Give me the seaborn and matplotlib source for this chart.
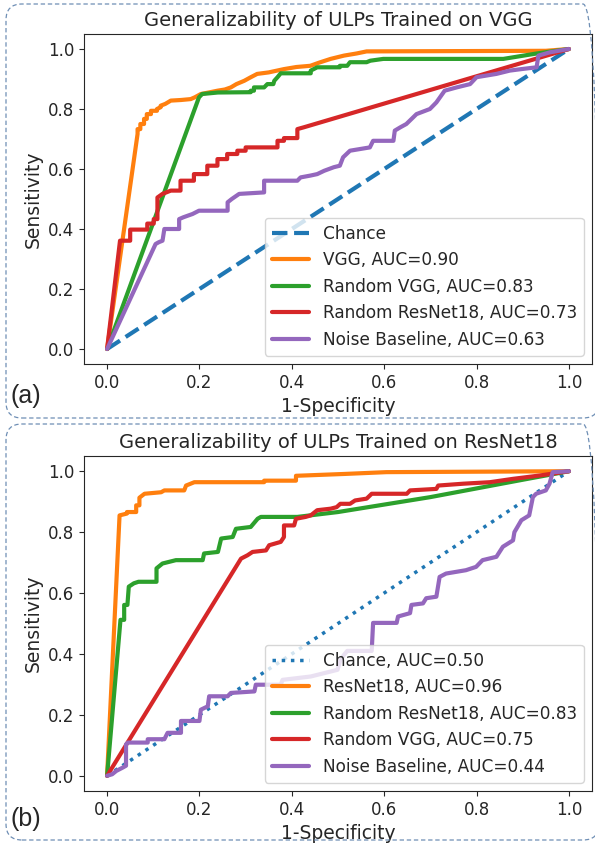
import matplotlib.pyplot as plt
import seaborn as sns
from matplotlib.patches import FancyBboxPatch
from matplotlib.transforms import IdentityTransform

# chance diagonal
chance_fpr = [0.0, 1.0]
chance_tpr = [0.0, 1.0]

# ---- panel (a): ULPs trained on VGG ----
a_vgg_fpr = [0, 0.066, 0.066, 0.072, 0.072, 0.08, 0.08, 0.086, 0.086, 0.095, 0.095, 0.108, 0.108,
             0.116, 0.116, 0.126, 0.138, 0.16, 0.181, 0.19, 0.203, 0.22, 0.239, 0.255, 0.268, 0.28,
             0.297, 0.31, 0.325, 0.35, 0.383, 0.41, 0.44, 0.46, 0.484, 0.513, 0.54, 0.562, 0.95, 1]
a_vgg_tpr = [0, 0.717, 0.733, 0.733, 0.75, 0.75, 0.767, 0.767, 0.783, 0.783, 0.794, 0.794, 0.8,
             0.806, 0.811, 0.817, 0.828, 0.83, 0.833, 0.839, 0.85, 0.855, 0.861, 0.865, 0.872, 0.883,
             0.894, 0.905, 0.917, 0.922, 0.933, 0.94, 0.944, 0.955, 0.967, 0.978, 0.985, 0.992, 0.994, 1]

a_rvgg_fpr = [0, 0.199, 0.206, 0.24, 0.311, 0.311, 0.318, 0.318, 0.34, 0.347, 0.36, 0.362, 0.369,
              0.376, 0.441, 0.441, 0.455, 0.504, 0.504, 0.52, 0.526, 0.562, 0.57, 0.598, 0.858, 0.93, 1]
a_rvgg_tpr = [0, 0.839, 0.85, 0.855, 0.856, 0.861, 0.861, 0.872, 0.872, 0.883, 0.883, 0.894, 0.906,
              0.919, 0.919, 0.928, 0.939, 0.939, 0.944, 0.944, 0.956, 0.956, 0.961, 0.967, 0.967, 0.985, 1]

a_rres_fpr = [0, 0.028, 0.05, 0.05, 0.087, 0.087, 0.101, 0.101, 0.109, 0.109, 0.12, 0.138, 0.159,
              0.159, 0.188, 0.188, 0.217, 0.217, 0.239, 0.239, 0.26, 0.26, 0.282, 0.282, 0.3, 0.3,
              0.369, 0.369, 0.383, 0.383, 0.412, 0.412, 0.426, 1]
a_rres_tpr = [0, 0.361, 0.361, 0.398, 0.398, 0.418, 0.418, 0.433, 0.433, 0.505, 0.517, 0.528, 0.528,
              0.561, 0.561, 0.583, 0.583, 0.611, 0.611, 0.633, 0.633, 0.65, 0.65, 0.661, 0.661, 0.672,
              0.672, 0.694, 0.694, 0.703, 0.703, 0.733, 0.739, 1]

a_noise_fpr = [0, 0.105, 0.112, 0.12, 0.124, 0.156, 0.156, 0.165, 0.174, 0.185, 0.199, 0.261, 0.261,
               0.27, 0.286, 0.34, 0.34, 0.412, 0.419, 0.44, 0.455, 0.47, 0.491, 0.504, 0.511, 0.526,
               0.569, 0.576, 0.62, 0.623, 0.635, 0.648, 0.67, 0.699, 0.713, 0.731, 0.757, 0.786, 0.8,
               0.843, 0.872, 0.897, 0.93, 0.934, 0.959, 1]
a_noise_tpr = [0, 0.35, 0.356, 0.361, 0.4, 0.4, 0.433, 0.439, 0.444, 0.45, 0.461, 0.461, 0.489,
               0.5, 0.517, 0.522, 0.561, 0.561, 0.572, 0.578, 0.583, 0.594, 0.606, 0.611, 0.639, 0.661,
               0.672, 0.694, 0.694, 0.728, 0.739, 0.75, 0.783, 0.8, 0.822, 0.861, 0.872, 0.883, 0.906,
               0.917, 0.928, 0.933, 0.939, 0.978, 0.989, 1]

# ---- panel (b): ULPs trained on ResNet18 ----
b_res_fpr = [0, 0.027, 0.043, 0.043, 0.063, 0.063, 0.07, 0.07, 0.081, 0.117, 0.124, 0.167, 0.171,
             0.189, 0.34, 0.34, 0.409, 0.409, 0.513, 0.605, 1]
b_res_tpr = [0, 0.855, 0.861, 0.866, 0.866, 0.888, 0.888, 0.913, 0.926, 0.931, 0.937, 0.937, 0.953,
             0.964, 0.964, 0.969, 0.969, 0.985, 0.991, 0.997, 1]

b_rres_fpr = [0, 0.029, 0.037, 0.037, 0.044, 0.047, 0.058, 0.068, 0.107, 0.107, 0.12, 0.149, 0.207,
              0.21, 0.24, 0.247, 0.272, 0.279, 0.311, 0.326, 0.333, 0.412, 0.5, 0.7, 0.9, 1]
b_rres_tpr = [0, 0.512, 0.512, 0.561, 0.561, 0.621, 0.632, 0.637, 0.637, 0.681, 0.697, 0.708, 0.708,
              0.73, 0.735, 0.779, 0.784, 0.811, 0.817, 0.844, 0.85, 0.85, 0.866, 0.915, 0.972, 1]

b_rvgg_fpr = [0, 0.29, 0.304, 0.315, 0.344, 0.351, 0.376, 0.383, 0.383, 0.405, 0.409, 0.43, 0.441,
              0.455, 0.484, 0.497, 0.505, 0.526, 0.537, 0.562, 0.573, 0.649, 0.656, 0.713, 0.717,
              0.771, 0.829, 0.879, 0.937, 1]
b_rvgg_tpr = [0, 0.713, 0.724, 0.735, 0.74, 0.757, 0.768, 0.784, 0.822, 0.822, 0.844, 0.85, 0.855,
              0.872, 0.877, 0.882, 0.893, 0.893, 0.904, 0.91, 0.926, 0.926, 0.937, 0.942, 0.953,
              0.959, 0.964, 0.975, 0.986, 1]

b_noise_fpr = [0, 0.011, 0.02, 0.034, 0.041, 0.041, 0.045, 0.088, 0.088, 0.124, 0.131, 0.16, 0.16,
               0.2, 0.203, 0.218, 0.221, 0.261, 0.268, 0.319, 0.322, 0.376, 0.38, 0.441, 0.47, 0.499,
               0.505, 0.513, 0.52, 0.569, 0.573, 0.576, 0.627, 0.63, 0.656, 0.659, 0.684, 0.691, 0.713,
               0.72, 0.734, 0.777, 0.799, 0.813, 0.843, 0.857, 0.879, 0.882, 0.897, 0.914, 0.922,
               0.929, 0.95, 0.958, 0.965, 1]
b_noise_tpr = [0, 0.005, 0.016, 0.027, 0.033, 0.103, 0.109, 0.109, 0.12, 0.12, 0.141, 0.141, 0.18,
               0.18, 0.217, 0.228, 0.261, 0.261, 0.272, 0.277, 0.299, 0.299, 0.315, 0.326, 0.337, 0.348,
               0.38, 0.397, 0.41, 0.41, 0.41, 0.502, 0.502, 0.523, 0.534, 0.561, 0.566, 0.583, 0.588,
               0.653, 0.664, 0.675, 0.686, 0.708, 0.719, 0.752, 0.773, 0.8, 0.839, 0.855, 0.915,
               0.926, 0.937, 0.959, 0.997, 1]

BLUE, ORANGE, GREEN, RED, PURPLE = "#1f77b4", "#ff7f0e", "#2ca02c", "#d62728", "#9467bd"

sns.set_style("ticks")
plt.rcParams["font.family"] = ["DejaVu Sans"]

fig = plt.figure(figsize=(5.95, 8.43), dpi=100)
ax_a = fig.add_axes([84 / 595, 1 - 364 / 843, 508 / 595, 330 / 843])
ax_b = fig.add_axes([84 / 595, 1 - 791 / 843, 508 / 595, 335 / 843])


def draw_panel(ax, title, chance_ls, chance_lw, chance_label, curves):
    sns.lineplot(x=chance_fpr, y=chance_tpr, ax=ax, color=BLUE, lw=chance_lw,
                 linestyle=chance_ls, label=chance_label, sort=False, estimator=None)
    for fpr, tpr, color, label in curves:
        sns.lineplot(x=fpr, y=tpr, ax=ax, color=color, lw=3, label=label,
                     sort=False, estimator=None)
    ax.set_xlim(-0.05, 1.05)
    ax.set_ylim(-0.05, 1.05)
    ax.set_xticks([0, 0.2, 0.4, 0.6, 0.8, 1.0])
    ax.set_yticks([0, 0.2, 0.4, 0.6, 0.8, 1.0])
    ax.tick_params(labelsize=12)
    ax.set_xlabel("1-Specificity", fontsize=13.5)
    ax.set_ylabel("Sensitivity", fontsize=13.5)
    ax.set_title(title, fontsize=14)
    ax.legend(loc="lower right", fontsize=12.2, handlelength=2.2)


draw_panel(ax_a, "Generalizability of ULPs Trained on VGG", "--", 3, "Chance", [
    (a_vgg_fpr, a_vgg_tpr, ORANGE, "VGG, AUC=0.90"),
    (a_rvgg_fpr, a_rvgg_tpr, GREEN, "Random VGG, AUC=0.83"),
    (a_rres_fpr, a_rres_tpr, RED, "Random ResNet18, AUC=0.73"),
    (a_noise_fpr, a_noise_tpr, PURPLE, "Noise Baseline, AUC=0.63"),
])
draw_panel(ax_b, "Generalizability of ULPs Trained on ResNet18", ":", 2.5, "Chance, AUC=0.50", [
    (b_res_fpr, b_res_tpr, ORANGE, "ResNet18, AUC=0.96"),
    (b_rres_fpr, b_rres_tpr, GREEN, "Random ResNet18, AUC=0.83"),
    (b_rvgg_fpr, b_rvgg_tpr, RED, "Random VGG, AUC=0.75"),
    (b_noise_fpr, b_noise_tpr, PURPLE, "Noise Baseline, AUC=0.44"),
])

# dashed rounded frames around each panel (pixel coordinates)
for x0, y0, w, h in [(6, 843 - 418, 593, 414), (6, 3, 593, 416)]:
    box = FancyBboxPatch((x0, y0), w, h, boxstyle="round,pad=0,rounding_size=16",
                         transform=IdentityTransform(), fill=False, ec="#6f8fb5",
                         lw=0.9, ls=(0, (3.5, 2.2)))
    fig.add_artist(box)

fig.text(10 / 595, 1 - 396 / 843, "(a)", fontsize=18, family="Liberation Sans", va="center")
fig.text(10 / 595, 1 - 819 / 843, "(b)", fontsize=18, family="Liberation Sans", va="center")

fig.savefig("out.png", dpi=100)
